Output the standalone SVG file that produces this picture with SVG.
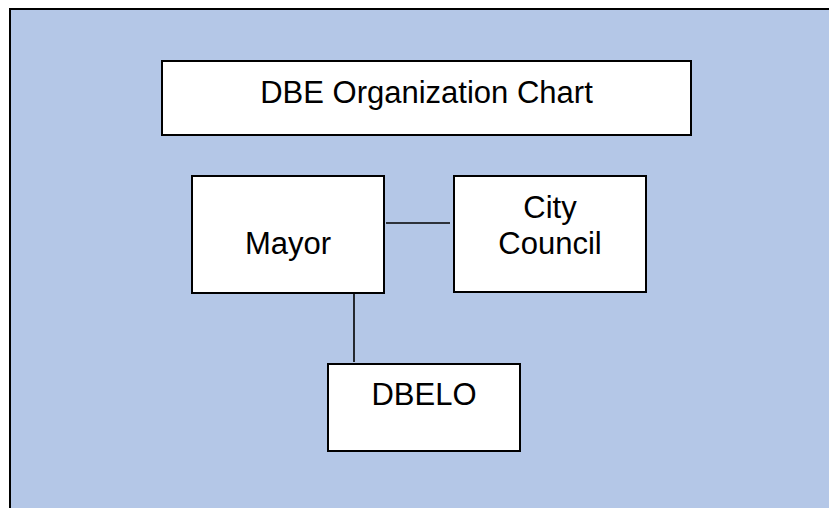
<svg xmlns="http://www.w3.org/2000/svg" width="829" height="508" viewBox="0 0 829 508">
  <style>
    .box { fill: #FFFFFF; stroke: #000000; stroke-width: 2; }
    .lbl { font-family: "Liberation Sans", Arial, sans-serif; font-size: 31px; fill: #000000; text-anchor: middle; }
    .conn { stroke: #000000; stroke-width: 1.6; fill: none; }
  </style>
  <rect id="background" x="10" y="9" width="830" height="510" fill="#B4C7E7" stroke="#000000" stroke-width="2"/>
  <g id="title">
    <rect class="box" x="162" y="61" width="529" height="74"/>
    <text class="lbl" x="426.5" y="103">DBE Organization Chart</text>
  </g>
  <g id="mayor">
    <rect class="box" x="192" y="176" width="192" height="117"/>
    <text class="lbl" x="288" y="254">Mayor</text>
  </g>
  <g id="city-council">
    <rect class="box" x="454" y="176" width="192" height="116"/>
    <text class="lbl" x="550" y="218">City</text>
    <text class="lbl" x="550" y="254">Council</text>
  </g>
  <g id="dbelo">
    <rect class="box" x="328" y="364" width="192" height="87"/>
    <text class="lbl" x="424" y="405">DBELO</text>
  </g>
  <g id="connectors">
    <line class="conn" x1="386" y1="223" x2="450" y2="223"/>
    <line class="conn" x1="354" y1="293" x2="354" y2="362"/>
  </g>
</svg>
